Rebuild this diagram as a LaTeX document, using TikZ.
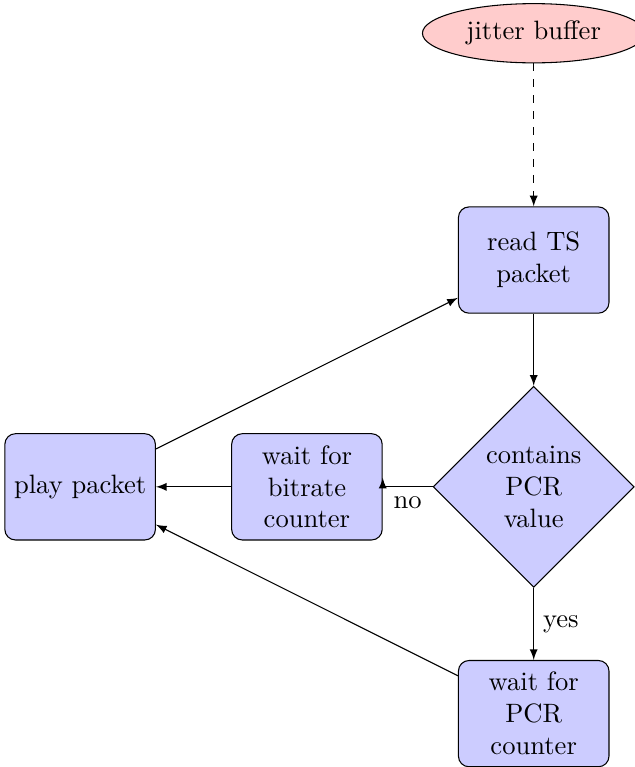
\documentclass[tikz,border=0pt]{standalone}
\usetikzlibrary{shapes.geometric}
\begin{document}
\begin{tikzpicture}[>=latex,
block/.style={draw, fill=blue!20, text width=5em, align=center, rounded corners, minimum height=4em},
decision/.style={diamond, draw, fill=blue!20, text width=4.5em, align=center, inner sep=0pt},
cloud/.style={draw, ellipse, fill=red!20, inner xsep=4.3pt, minimum height=2em}]
\useasboundingbox (-7.06,-6.706) rectangle (1.336,3.44);
\node[cloud] (jitter) at (0,3) {jitter buffer};
\node[block] (read) at (0,0) {read TS packet};
\node[decision] (decide) at (0,-3) {contains PCR value};
\node[block] (waitpcr) at (0,-6) {wait for PCR counter};
\node[block] (waitrate) at (-3,-3) {wait for bitrate counter};
\node[block] (play) at (-6,-3) {play packet};
\draw[->, dashed] (jitter) -- (read);
\draw[->] (read) -- (decide);
\draw[->] (decide) -- node[right] {yes} (waitpcr);
\draw[->] (decide) -- node[below] {no} (waitrate.east) -- ++(0,0.12);
\draw[->] (waitrate) -- (play);
\draw[->] (waitpcr) -- (play);
\draw[->] (play) -- (read);
	\end{tikzpicture}
\end{document}
